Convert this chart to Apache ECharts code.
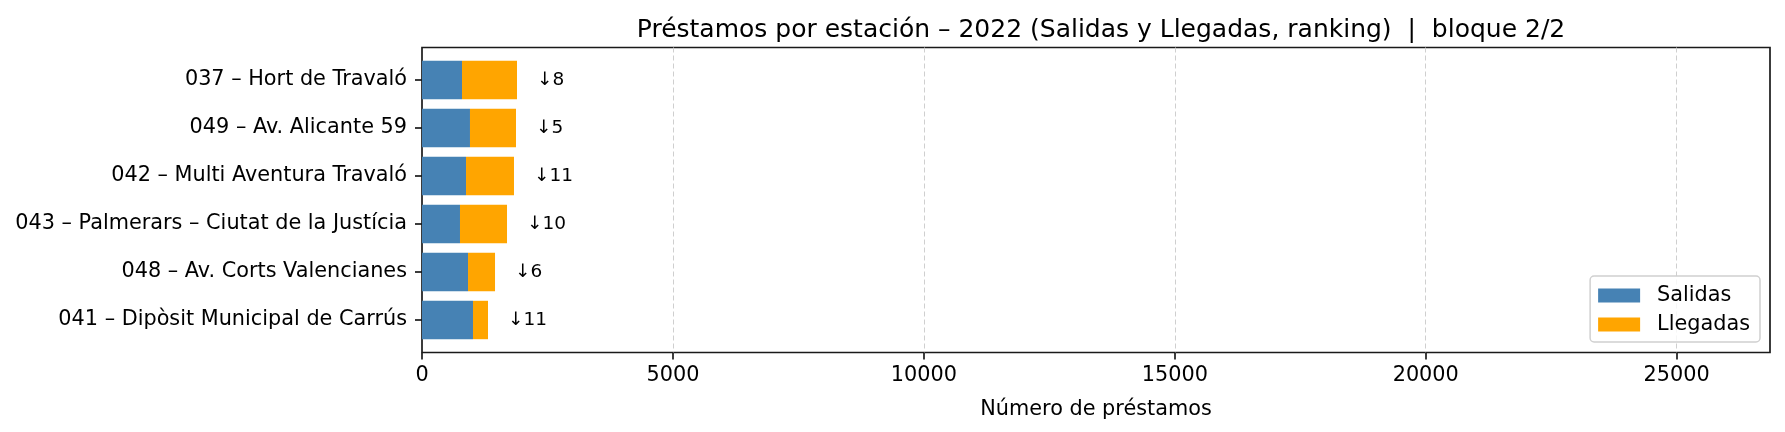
<!DOCTYPE html>
<html lang="es">
<head>
  <meta charset="UTF-8">
  <title>Préstamos por estación – 2022 | bloque 2/2</title>
  <script src="https://cdn.jsdelivr.net/npm/echarts@6/dist/echarts.min.js"></script>
  <style>
    body { margin: 0; background: #fff; }
  </style>
</head>
<body>
  <!-- Chart container -->
  <div id="main" style="width: 1785px; height: 432px;"></div>

  <script>
    // Data
    const categories = [
      '037 – Hort de Travaló',
      '049 – Av. Alicante 59',
      '042 – Multi Aventura Travaló',
      '043 – Palmerars – Ciutat de la Justícia',
      '048 – Av. Corts Valencianes',
      '041 – Dipòsit Municipal de Carrús'
    ];
    const salidas = [797, 956, 877, 757, 917, 1016];
    const llegadas = [1096, 917, 956, 937, 538, 299];
    const rankChange = ['↓8', '↓5', '↓11', '↓10', '↓6', '↓11'];
    const xMax = 26860;
    const xStep = 5000;

    const font = 'DejaVu Sans';
    const myChart = echarts.init(document.getElementById('main'));

    const options = {
      animation: false,
      backgroundColor: '#fff',
      title: {
        text: 'Préstamos por estación – 2022 (Salidas y Llegadas, ranking)  |  bloque 2/2',
        left: 1096,
        textAlign: 'center',
        top: 13,
        textStyle: { fontFamily: font, fontSize: 25, fontWeight: 'normal', color: '#000' }
      },
      legend: {
        data: ['Salidas', 'Llegadas'],
        orient: 'vertical',
        right: 25,
        bottom: 90,
        icon: 'rect',
        itemWidth: 42,
        itemHeight: 14,
        itemGap: 8,
        padding: [9, 10, 7, 8],
        backgroundColor: 'rgba(255,255,255,0.8)',
        borderColor: '#d0d0d0',
        borderWidth: 1.5,
        borderRadius: 4,
        textStyle: { fontFamily: font, fontSize: 20.8, color: '#000', padding: [0, 0, 0, 12] }
      },
      grid: [
        // bars
        { left: 422, right: 15, top: 56, bottom: 88 },
        // frame, x axis and vertical grid lines
        { left: 422, right: 15, top: 47.5, bottom: 79.5, show: true, borderColor: '#1a1a1a', borderWidth: 1.7, backgroundColor: 'transparent' }
      ],
      xAxis: [
        { gridIndex: 0, type: 'value', min: 0, max: xMax, show: false },
        {
          gridIndex: 1, type: 'value', min: 0, max: xMax, interval: xStep,
          name: 'Número de préstamos',
          nameLocation: 'middle',
          nameGap: 47,
          nameTextStyle: { fontFamily: font, fontSize: 20.8, color: '#000' },
          axisLine: { show: false },
          axisTick: { show: true, length: 7, lineStyle: { color: '#1a1a1a', width: 1.7 } },
          axisLabel: {
            fontFamily: font, fontSize: 20.8, color: '#000', margin: 13, showMaxLabel: false,
            formatter: v => String(v)
          },
          splitLine: { show: true, showMinLine: false, showMaxLine: false, lineStyle: { color: '#cfcfcf', type: [5, 3], width: 1 } }
        }
      ],
      yAxis: [
        {
          gridIndex: 0, type: 'category', data: categories, inverse: true,
          axisLine: { show: false },
          axisTick: { show: true, alignWithLabel: true, length: 7, lineStyle: { color: '#1a1a1a', width: 1.7 } },
          axisLabel: { fontFamily: font, fontSize: 20.8, color: '#000', margin: 15 },
          splitLine: { show: false }
        },
        { gridIndex: 1, type: 'value', show: false }
      ],
      series: [
        {
          name: 'Salidas',
          type: 'bar',
          stack: 'total',
          xAxisIndex: 0,
          yAxisIndex: 0,
          barWidth: 38.4,
          itemStyle: { color: '#4682B4' },
          data: salidas
        },
        {
          name: 'Llegadas',
          type: 'bar',
          stack: 'total',
          xAxisIndex: 0,
          yAxisIndex: 0,
          barWidth: 38.4,
          itemStyle: { color: '#FFA500' },
          label: {
            show: true,
            position: 'right',
            distance: 20,
            fontFamily: font,
            fontSize: 18.5,
            color: '#000',
            formatter: p => rankChange[p.dataIndex]
          },
          data: llegadas
        }
      ]
    };

    myChart.setOption(options);
  </script>
</body>
</html>
